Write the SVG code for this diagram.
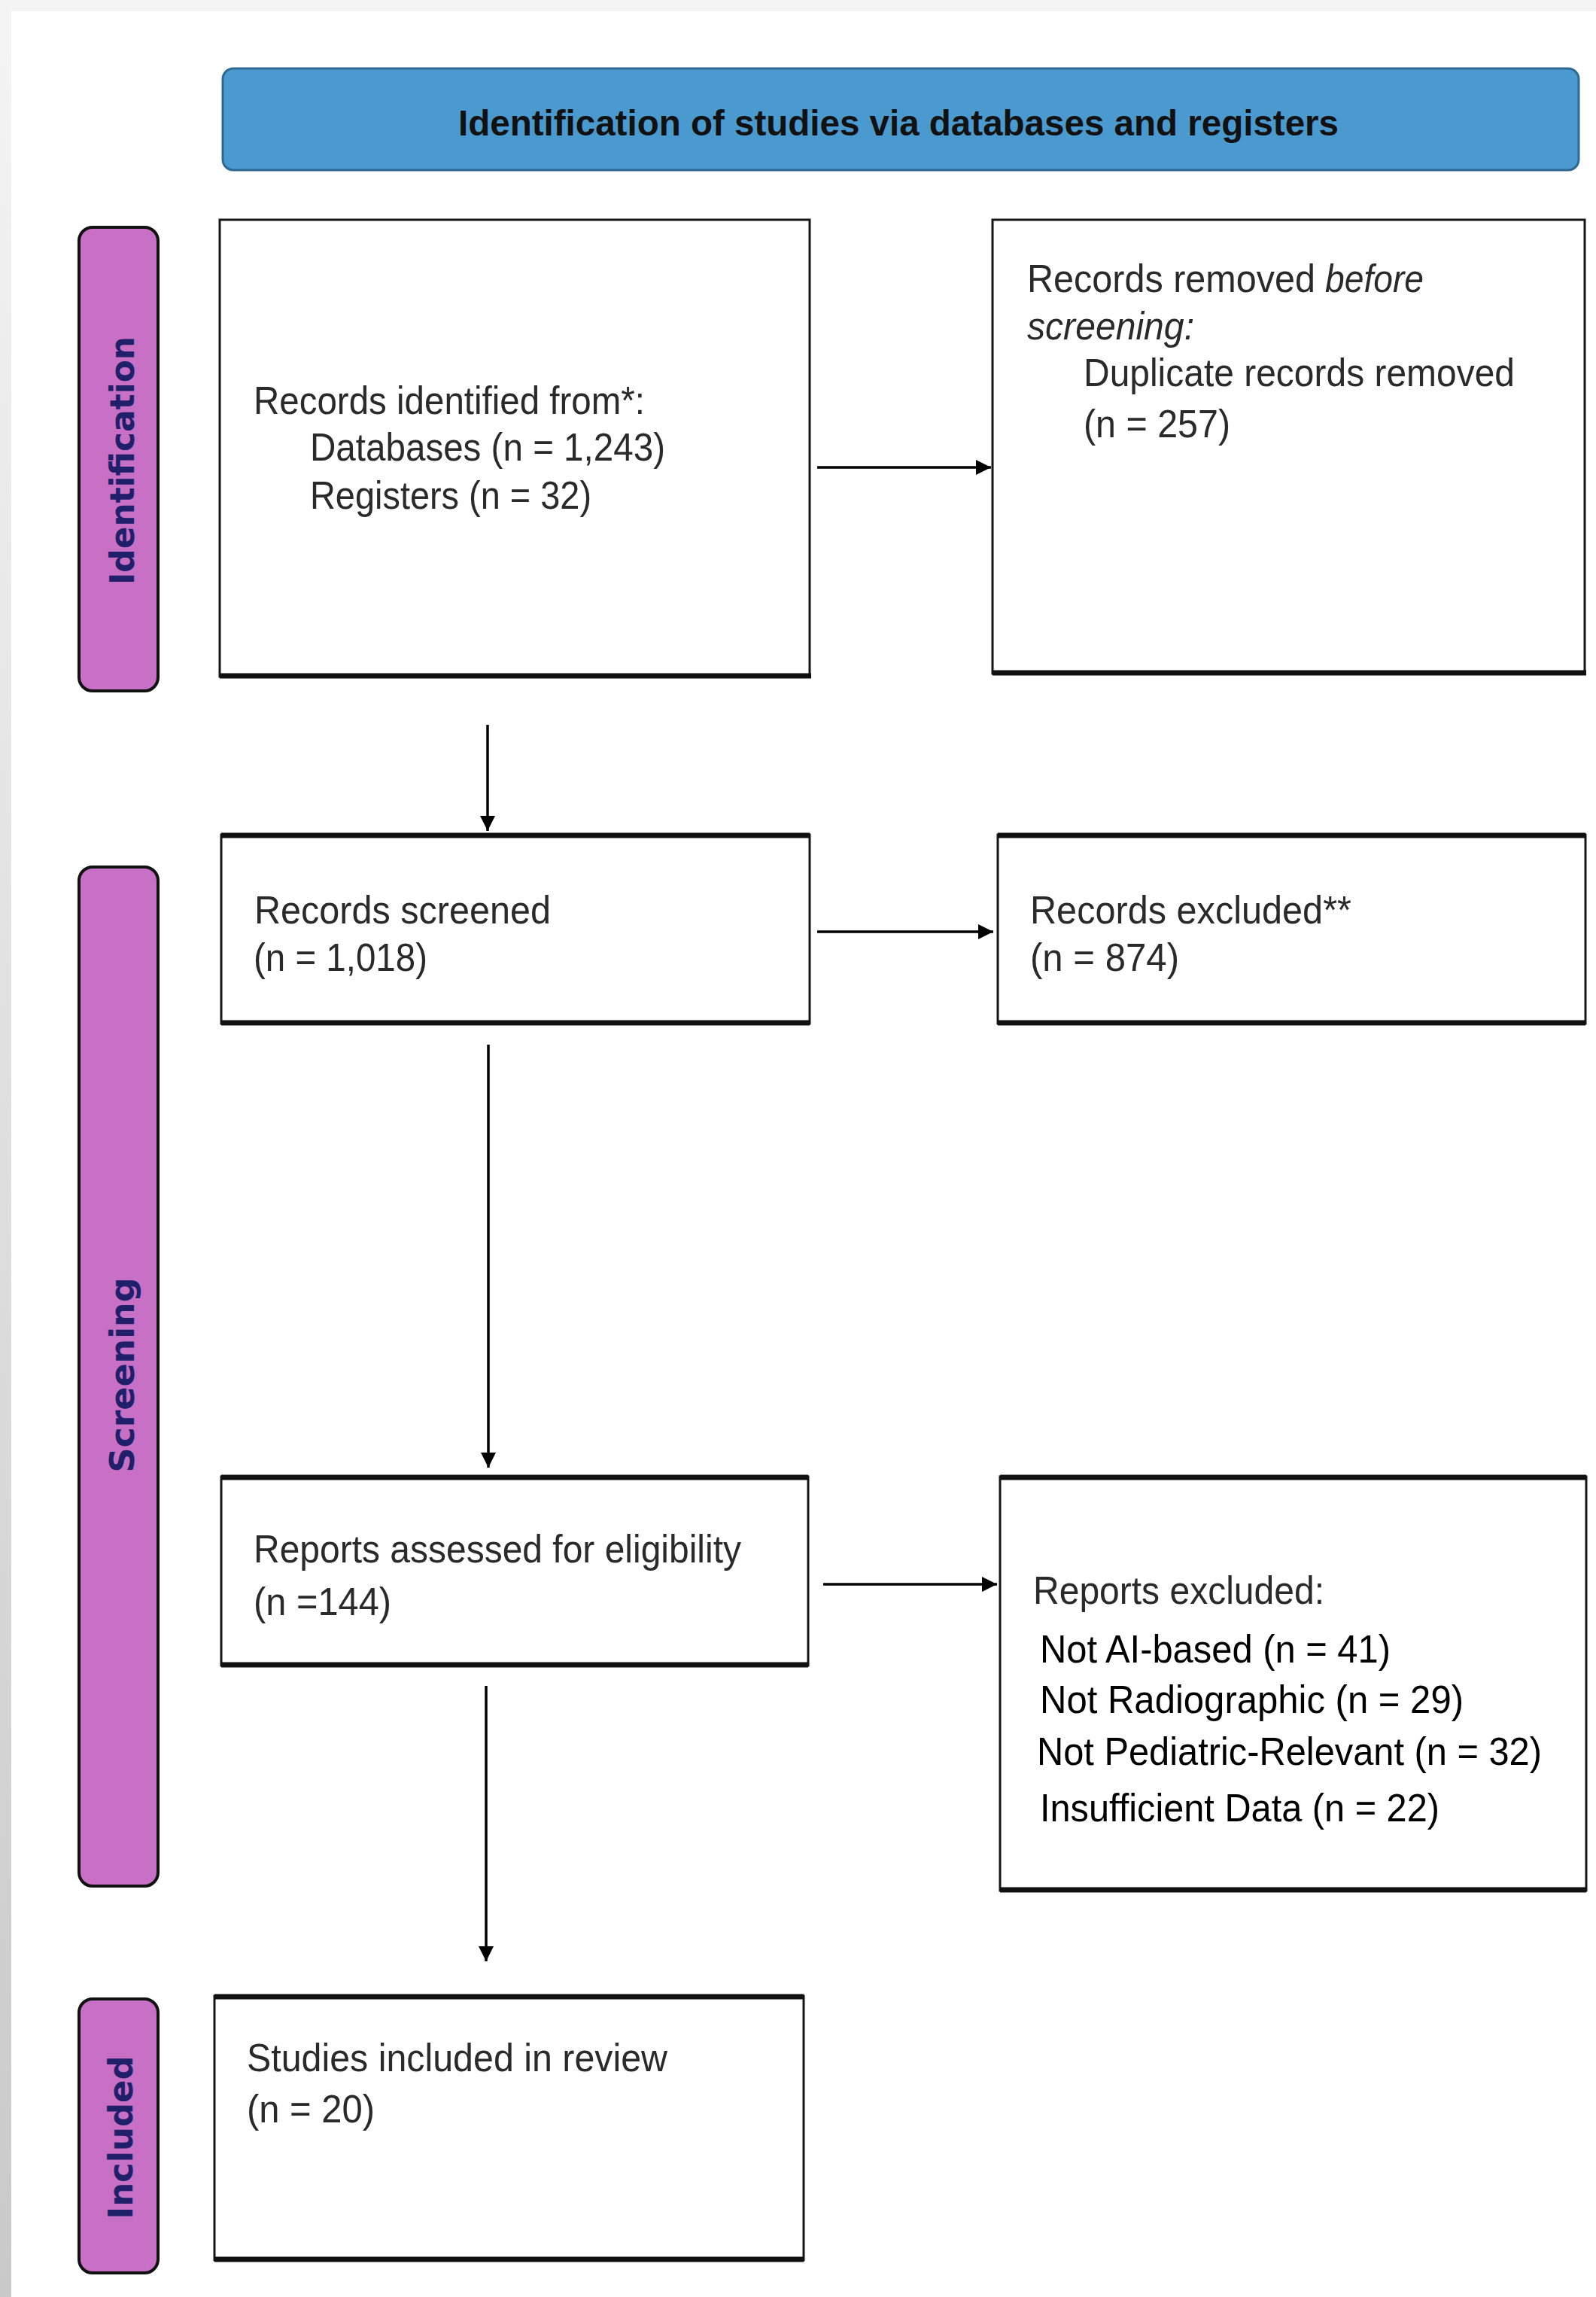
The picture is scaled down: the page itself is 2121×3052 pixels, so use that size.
<svg xmlns="http://www.w3.org/2000/svg" width="2121" height="3052" viewBox="0 0 2121 3052">
<defs>
<linearGradient id="leftStrip" x1="0" y1="0" x2="0" y2="1">
<stop offset="0" stop-color="#f4f4f4"/>
<stop offset="1" stop-color="#c9c9c9"/>
</linearGradient>
<marker id="arrow" viewBox="0 0 10 10" refX="10" refY="5" markerWidth="22" markerHeight="20" markerUnits="userSpaceOnUse" orient="auto">
<path d="M0,0 L10,5 L0,10 z" fill="#000"/>
</marker>
</defs>
<style>
.box{fill:#fff;stroke:#161616;stroke-width:3}
.edge{stroke:#111;stroke-width:7;fill:none}
.lab{fill:#c86fc6;stroke:#111;stroke-width:4}
.labt{font-family:"DejaVu Sans",sans-serif;font-weight:bold;font-size:44px;fill:#20206a}
.t{font-family:"Liberation Sans",Arial,sans-serif;font-size:52px;fill:#2a2a2a}
.k{fill:#000}
.conn{stroke:#000;stroke-width:3.5;fill:none}
</style>
<rect x="0" y="0" width="2121" height="3052" fill="#f4f4f4"/>
<rect x="0" y="0" width="15" height="3052" fill="url(#leftStrip)"/>
<rect x="15" y="15" width="2106" height="3037" fill="#fff"/>

<g id="header">
<rect x="296" y="91" width="1802" height="135" rx="14" fill="#4a9ad0" stroke="#2c6a94" stroke-width="3"/>
<text x="1194" y="180" class="t" text-anchor="middle" style="font-weight:bold;fill:#111;font-size:48px" textLength="1170" lengthAdjust="spacingAndGlyphs">Identification of studies via databases and registers</text>
</g>

<g id="label-identification">
<rect class="lab" x="105" y="302" width="105" height="616" rx="18"/>
<text class="labt" transform="translate(178,612) rotate(-90)" text-anchor="middle" textLength="330" lengthAdjust="spacingAndGlyphs">Identification</text>
</g>
<g id="label-screening">
<rect class="lab" x="105" y="1152" width="105" height="1354" rx="18"/>
<text class="labt" transform="translate(178,1827) rotate(-90)" text-anchor="middle" textLength="259" lengthAdjust="spacingAndGlyphs">Screening</text>
</g>
<g id="label-included">
<rect class="lab" x="105" y="2656" width="105" height="364" rx="18"/>
<text class="labt" transform="translate(176,2840) rotate(-90)" text-anchor="middle" textLength="217" lengthAdjust="spacingAndGlyphs">Included</text>
</g>

<g id="records-identified">
<rect class="box" x="292" y="292" width="784" height="607"/>
<line class="edge" x1="292" y1="898" x2="1078" y2="898"/>
<text class="t" x="337" y="550" textLength="520" lengthAdjust="spacingAndGlyphs">Records identified from*:</text>
<text class="t" x="412" y="612" textLength="472" lengthAdjust="spacingAndGlyphs">Databases (n = 1,243)</text>
<text class="t" x="412" y="676" textLength="374" lengthAdjust="spacingAndGlyphs">Registers (n = 32)</text>
</g>

<g id="records-removed">
<rect class="box" x="1319" y="292" width="787" height="603"/>
<line class="edge" x1="1319" y1="894" x2="2108" y2="894"/>
<text class="t" x="1365" y="388" textLength="383" lengthAdjust="spacingAndGlyphs">Records removed</text>
<text class="t" x="1761" y="388" font-style="italic" textLength="131" lengthAdjust="spacingAndGlyphs">before</text>
<text class="t" x="1365" y="451" font-style="italic" textLength="222" lengthAdjust="spacingAndGlyphs">screening:</text>
<text class="t" x="1440" y="513" textLength="573" lengthAdjust="spacingAndGlyphs">Duplicate records removed</text>
<text class="t" x="1440" y="581" textLength="195" lengthAdjust="spacingAndGlyphs">(n = 257)</text>
</g>

<g id="records-screened">
<rect class="box" x="294" y="1109" width="782" height="251"/>
<line class="edge" x1="294" y1="1110" x2="1076" y2="1110"/>
<line class="edge" x1="294" y1="1359" x2="1076" y2="1359"/>
<text class="t" x="338" y="1227" textLength="394" lengthAdjust="spacingAndGlyphs">Records screened</text>
<text class="t" x="337" y="1290" textLength="231" lengthAdjust="spacingAndGlyphs">(n = 1,018)</text>
</g>

<g id="records-excluded">
<rect class="box" x="1326" y="1109" width="781" height="251"/>
<line class="edge" x1="1326" y1="1110" x2="2107" y2="1110"/>
<line class="edge" x1="1326" y1="1359" x2="2107" y2="1359"/>
<text class="t" x="1369" y="1227" textLength="427" lengthAdjust="spacingAndGlyphs">Records excluded**</text>
<text class="t" x="1369" y="1290" textLength="198" lengthAdjust="spacingAndGlyphs">(n = 874)</text>
</g>

<g id="reports-assessed">
<rect class="box" x="294" y="1962" width="780" height="251"/>
<line class="edge" x1="294" y1="1963" x2="1074" y2="1963"/>
<line class="edge" x1="294" y1="2212" x2="1074" y2="2212"/>
<text class="t" x="337" y="2076" textLength="648" lengthAdjust="spacingAndGlyphs">Reports assessed for eligibility</text>
<text class="t" x="337" y="2146" textLength="183" lengthAdjust="spacingAndGlyphs">(n =144)</text>
</g>

<g id="reports-excluded">
<rect class="box" x="1329" y="1962" width="779" height="550"/>
<line class="edge" x1="1329" y1="1963" x2="2108" y2="1963"/>
<line class="edge" x1="1329" y1="2511" x2="2108" y2="2511"/>
<text class="t" x="1373" y="2131" textLength="387" lengthAdjust="spacingAndGlyphs">Reports excluded:</text>
<text class="t k" x="1382" y="2209" textLength="466" lengthAdjust="spacingAndGlyphs">Not AI-based (n = 41)</text>
<text class="t k" x="1382" y="2276" textLength="563" lengthAdjust="spacingAndGlyphs">Not Radiographic (n = 29)</text>
<text class="t k" x="1378" y="2345" textLength="671" lengthAdjust="spacingAndGlyphs">Not Pediatric-Relevant (n = 32)</text>
<text class="t k" x="1382" y="2420" textLength="531" lengthAdjust="spacingAndGlyphs">Insufficient Data (n = 22)</text>
</g>

<g id="studies-included">
<rect class="box" x="285" y="2652" width="783" height="351"/>
<line class="edge" x1="285" y1="2653" x2="1068" y2="2653"/>
<line class="edge" x1="285" y1="3002" x2="1068" y2="3002"/>
<text class="t" x="328" y="2752" textLength="559" lengthAdjust="spacingAndGlyphs">Studies included in review</text>
<text class="t" x="328" y="2820" textLength="170" lengthAdjust="spacingAndGlyphs">(n = 20)</text>
</g>

<g id="connectors">
<line class="conn" x1="1086" y1="621" x2="1317" y2="621" marker-end="url(#arrow)"/>
<line class="conn" x1="648" y1="963" x2="648" y2="1104" marker-end="url(#arrow)"/>
<line class="conn" x1="1086" y1="1238" x2="1320" y2="1238" marker-end="url(#arrow)"/>
<line class="conn" x1="649" y1="1388" x2="649" y2="1950" marker-end="url(#arrow)"/>
<line class="conn" x1="1094" y1="2105" x2="1325" y2="2105" marker-end="url(#arrow)"/>
<line class="conn" x1="646" y1="2240" x2="646" y2="2606" marker-end="url(#arrow)"/>
</g>
</svg>
